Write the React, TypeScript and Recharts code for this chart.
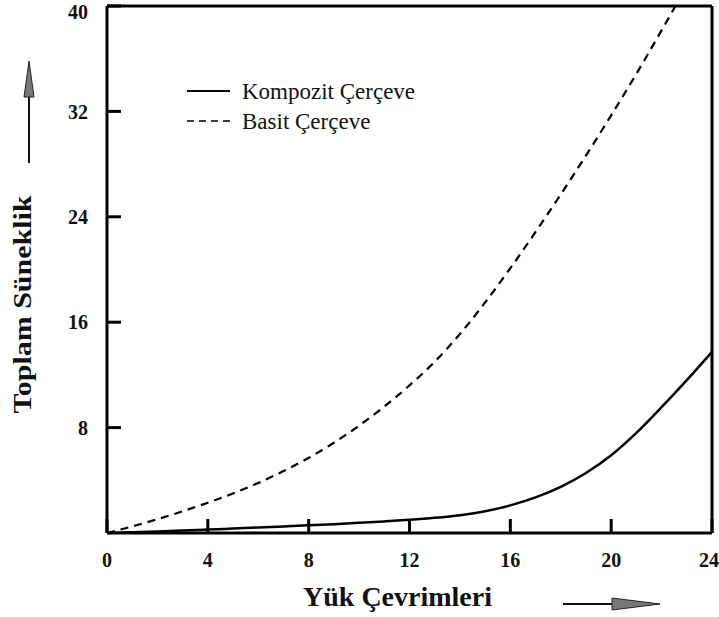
import React from 'react';
import {
  LineChart,
  Line,
  XAxis,
  YAxis,
  ReferenceLine,
  Legend
} from 'recharts';

// load cycles (x axis)
const cycles = [0, 1, 2, 3, 4, 5, 6, 7, 8, 9, 10, 11, 12, 13, 14, 15, 16, 17, 18, 19, 20, 21, 22, 23, 24];
const kompozit = [0, 0.05, 0.12, 0.19, 0.26, 0.34, 0.42, 0.5, 0.58, 0.67, 0.77, 0.88, 1.0, 1.15, 1.35, 1.65, 2.1, 2.7, 3.5, 4.55, 5.9, 7.6, 9.55, 11.6, 13.75];

const basitCycles = [0, 1, 2, 3, 4, 5, 6, 7, 8, 9, 10, 11, 12, 13, 14, 15, 16, 17, 18, 19, 20, 21, 22, 22.55];
const basit = [0, 0.5, 1.05, 1.65, 2.3, 3.0, 3.8, 4.7, 5.7, 6.85, 8.15, 9.6, 11.2, 13.0, 15.1, 17.5, 20.1, 22.85, 25.7, 28.65, 31.7, 34.85, 38.15, 40];

const seriesNames = ['Kompozit Çerçeve', 'Basit Çerçeve'];
const xTicks = [0, 4, 8, 12, 16, 20, 24];
const yTicks = [8, 16, 24, 32, 40];

const kompozitData = cycles.map((c, i) => ({ x: c, y: kompozit[i] }));
const basitData = basitCycles.map((c, i) => ({ x: c, y: basit[i] }));

const SERIF = '"Liberation Serif", "Times New Roman", serif';

const renderLegend = (props: any) => {
  const items = [...(props.payload || [])].sort(
    (a: any, b: any) => seriesNames.indexOf(a.value) - seriesNames.indexOf(b.value)
  );
  return (
    <svg width={240} height={70}>
      {items.map((entry: any, i: number) => {
        const y = 16 + i * 30;
        const dashed = !!entry.payload?.strokeDasharray;
        return (
          <g key={`leg-${i}`}>
            <line
              x1={2}
              x2={45}
              y1={y}
              y2={y}
              stroke="#000"
              strokeWidth={dashed ? 1.5 : 2}
              strokeDasharray={dashed ? '7 5' : undefined}
            />
            <text x={57} y={y + 8} fontFamily={SERIF} fontSize={23} fill="#111">
              {entry.value}
            </text>
          </g>
        );
      })}
    </svg>
  );
};

const XLabel = (props: any) => {
  const { viewBox } = props;
  const cx = viewBox.x + viewBox.width / 2 - 12;
  const by = viewBox.y + 73;
  return (
    <g>
      <text
        x={cx}
        y={by}
        textAnchor="middle"
        fontFamily={SERIF}
        fontWeight="bold"
        fontSize={28}
        fill="#111"
      >
        Yük Çevrimleri
      </text>
      <line x1={563} y1={by - 2} x2={630} y2={by - 2} stroke="#111" strokeWidth={2} />
      <polygon
        points={`612,${by - 8} 660,${by - 2} 612,${by + 4}`}
        fill="#777"
        stroke="#222"
        strokeWidth={1}
      />
    </g>
  );
};

const YLabel = (props: any) => {
  const { viewBox } = props;
  const cy = viewBox.y + viewBox.height / 2 + 35;
  return (
    <g>
      <text
        x={31}
        y={cy}
        transform={`rotate(-90, 31, ${cy})`}
        textAnchor="middle"
        fontFamily={SERIF}
        fontWeight="bold"
        fontSize={25}
        fill="#111"
        textLength={218}
        lengthAdjust="spacingAndGlyphs"
      >
        Toplam Süneklik
      </text>
      <line x1={29} y1={163} x2={29} y2={92} stroke="#111" strokeWidth={2} />
      <polygon points="24,97 29,61 34,97" fill="#777" stroke="#222" strokeWidth={1} />
    </g>
  );
};

export default function App() {
  const tickStyle = { fill: '#111', fontFamily: SERIF, fontWeight: 'bold', fontSize: 20 };
  const axisStroke = { stroke: '#000', strokeWidth: 3 };

  return (
    <div style={{ position: 'absolute', left: 0, top: 0, width: 719, height: 617, background: '#fff' }}>
      <LineChart
        width={719}
        height={617}
        margin={{ top: 6, right: 7, bottom: 44, left: 37 }}
      >
        <XAxis
          dataKey="x"
          type="number"
          domain={[0, 24]}
          ticks={xTicks}
          height={40}
          tickSize={-14}
          tickMargin={34}
          tick={tickStyle}
          axisLine={axisStroke}
          tickLine={axisStroke}
          label={<XLabel />}
          allowDuplicatedCategory={false}
        />
        <YAxis
          type="number"
          domain={[0, 40]}
          ticks={yTicks}
          width={70}
          tickSize={-14}
          tickMargin={33}
          tick={tickStyle}
          axisLine={axisStroke}
          tickLine={axisStroke}
          label={<YLabel />}
        />
        <ReferenceLine y={40} stroke="#000" strokeWidth={3} />
        <ReferenceLine x={24} stroke="#000" strokeWidth={3} />
        <Legend
          layout="horizontal"
          verticalAlign="middle"
          align="center"
          content={renderLegend}
          wrapperStyle={{ left: 185, top: 75, width: 240, height: 70 }}
        />
        <Line
          data={kompozitData}
          dataKey="y"
          name={seriesNames[0]}
          type="monotone"
          stroke="#000"
          strokeWidth={2.5}
          dot={false}
          isAnimationActive={false}
        />
        <Line
          data={basitData}
          dataKey="y"
          name={seriesNames[1]}
          type="monotone"
          stroke="#000"
          strokeWidth={2.2}
          strokeDasharray="8 6"
          dot={false}
          isAnimationActive={false}
        />
      </LineChart>
    </div>
  );
}
